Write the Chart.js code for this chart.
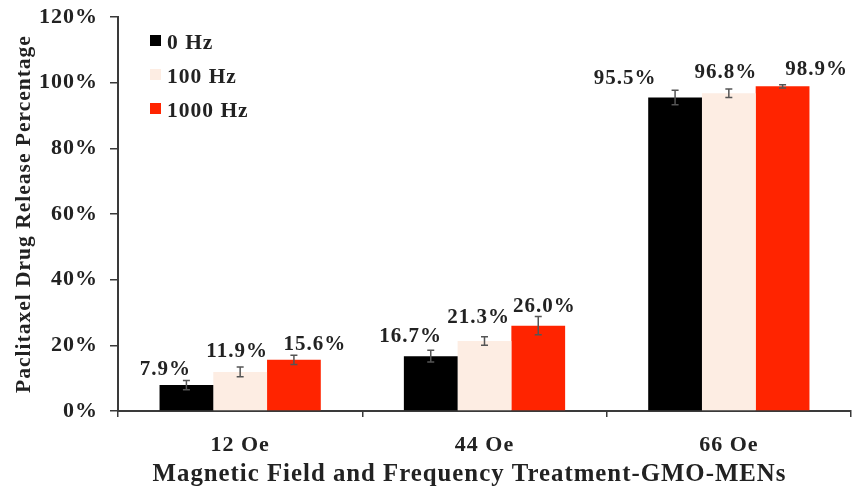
<!DOCTYPE html>
<html>
<head>
<meta charset="utf-8">
<script src="https://cdn.jsdelivr.net/npm/chart.js@4/dist/chart.umd.min.js"></script>
<style>
  html, body { margin: 0; padding: 0; background: #fff; }
  #wrap { width: 853px; height: 486px; }
</style>
</head>
<body>
<div id="wrap"><canvas id="c"></canvas></div>
<script>
// Paclitaxel release (%) per magnetic field strength and frequency
const categories = ['12 Oe', '44 Oe', '66 Oe'];
const seriesNames = ['0 Hz', '100 Hz', '1000 Hz'];
const release0Hz = [7.9, 16.7, 95.5];
const release100Hz = [11.9, 21.3, 96.8];
const release1000Hz = [15.6, 26.0, 98.9];
const error0Hz = [1.4, 1.8, 2.2];
const error100Hz = [1.5, 1.3, 1.3];
const error1000Hz = [1.4, 2.8, 0.5];
const yTicks = [0, 20, 40, 60, 80, 100, 120];
const xTitle = 'Magnetic Field and Frequency Treatment-GMO-MENs';
const yTitle = 'Paclitaxel Drug Release Percentage';

const FONT = "'Liberation Serif', 'Times New Roman', serif";
const INK = '#222';
const AXIS = '#3a3a3a';
const colors = ['#000000', '#FDEDE3', '#FF2400'];

// label nudges (px) relative to each bar top, per series / category
const labelNudge = [
  [[-21, -10], [-20, -14], [-50, -13]],
  [[-3, -15], [-6, -18], [-3, -15]],
  [[21, -10], [6, -14], [34, -11]]
];

const valueSets = [release0Hz, release100Hz, release1000Hz];
const errorSets = [error0Hz, error100Hz, error1000Hz];

// slightly loose tracking for all canvas text
const tracking = {
  id: 'tracking',
  beforeLayout(chart) { chart.ctx.letterSpacing = '1px'; },
  beforeDraw(chart) { chart.ctx.letterSpacing = '1px'; }
};

const errorBars = {
  id: 'errorBars',
  afterDatasetsDraw(chart) {
    const ctx = chart.ctx, y = chart.scales.y;
    ctx.save();
    ctx.strokeStyle = '#555';
    ctx.lineWidth = 1.5;
    chart.data.datasets.forEach((ds, i) => {
      const meta = chart.getDatasetMeta(i);
      meta.data.forEach((bar, j) => {
        const v = ds.data[j], e = errorSets[i][j];
        const yTop = y.getPixelForValue(v + e), yBot = y.getPixelForValue(v - e);
        ctx.beginPath();
        ctx.moveTo(bar.x, yTop); ctx.lineTo(bar.x, yBot);
        ctx.moveTo(bar.x - 3.5, yTop); ctx.lineTo(bar.x + 3.5, yTop);
        ctx.moveTo(bar.x - 3.5, yBot); ctx.lineTo(bar.x + 3.5, yBot);
        ctx.stroke();
      });
    });
    ctx.restore();
  }
};

const valueLabels = {
  id: 'valueLabels',
  afterDatasetsDraw(chart) {
    const ctx = chart.ctx;
    ctx.save();
    ctx.font = 'bold 21px ' + FONT;
    ctx.fillStyle = INK;
    ctx.textAlign = 'center';
    ctx.textBaseline = 'alphabetic';
    chart.data.datasets.forEach((ds, i) => {
      chart.getDatasetMeta(i).data.forEach((bar, j) => {
        const [dx, dy] = labelNudge[i][j];
        ctx.fillText(ds.data[j].toFixed(1) + '%', bar.x + dx, bar.y + dy);
      });
    });
    ctx.restore();
  }
};

const boxLegend = {
  id: 'boxLegend',
  afterDraw(chart) {
    const ctx = chart.ctx, a = chart.chartArea;
    ctx.save();
    ctx.font = 'bold 21.5px ' + FONT;
    ctx.textBaseline = 'middle';
    chart.data.datasets.forEach((ds, i) => {
      const x = a.left + 32, yc = a.top + 23.5 + i * 34;
      ctx.fillStyle = ds.backgroundColor;
      ctx.fillRect(x, yc - 5.5, 11, 11);
      ctx.fillStyle = INK;
      ctx.fillText(ds.label, x + 17, yc + 3);
    });
    ctx.restore();
  }
};

// x-axis caption under the category labels
const xCaption = {
  id: 'xCaption',
  afterDraw(chart) {
    const ctx = chart.ctx, a = chart.chartArea;
    ctx.save();
    ctx.font = 'bold 24.8px ' + FONT;
    ctx.fillStyle = INK;
    ctx.textAlign = 'center';
    ctx.textBaseline = 'alphabetic';
    ctx.fillText(xTitle, (a.left + a.right) / 2 - 15, 481);
    ctx.restore();
  }
};

new Chart(document.getElementById('c'), {
  type: 'bar',
  data: {
    labels: categories,
    datasets: seriesNames.map((name, i) => ({
      label: name,
      data: valueSets[i],
      backgroundColor: colors[i],
      borderWidth: 0,
      categoryPercentage: 0.66,
      barPercentage: 1.0
    }))
  },
  options: {
    responsive: true,
    maintainAspectRatio: false,
    animation: false,
    layout: { padding: { top: 0, right: 2, left: 12, bottom: 0 } },
    plugins: { legend: { display: false }, tooltip: { enabled: false } },
    scales: {
      x: {
        afterFit(s) { s.height = 75; },
        grid: { display: true, drawOnChartArea: false, offset: true, tickLength: 6, color: AXIS, lineWidth: 1.5 },
        border: { display: true, color: AXIS, width: 2 },
        ticks: { color: INK, font: { family: FONT, size: 22, weight: 'bold' }, padding: 15 }
      },
      y: {
        min: 0, max: 120,
        afterFit(s) { s.width = 106; s.paddingTop = 17; s.paddingBottom = 0; },
        afterBuildTicks(scale) { scale.ticks = yTicks.map(v => ({ value: v })); },
        grid: { display: true, drawOnChartArea: false, tickLength: 8, color: AXIS, lineWidth: 1.5 },
        border: { display: true, color: AXIS, width: 2 },
        ticks: { color: INK, font: { family: FONT, size: 22, weight: 'bold' }, padding: 12, callback: v => v + '%' },
        title: {
          display: true,
          text: yTitle,
          color: INK,
          font: { family: FONT, size: 21.5, weight: 'bold', lineHeight: 1.1 },
          padding: { top: 1, bottom: 4 }
        }
      }
    }
  },
  plugins: [tracking, errorBars, valueLabels, boxLegend, xCaption]
});
</script>
</body>
</html>
